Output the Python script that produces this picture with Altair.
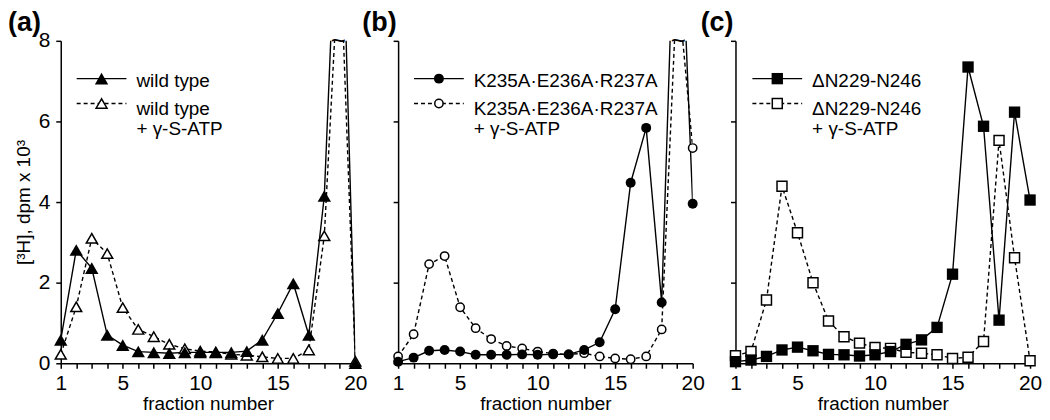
import altair as alt
import pandas as pd

fractions = list(range(1, 21))
x_labels = [1, 5, 10, 15, 20]
y_ticks = [0, 2, 4, 6, 8]

# panel (a)
wt = [0.58, 2.81, 2.36, 0.70, 0.45, 0.29, 0.27, 0.25, 0.27, 0.27,
      0.27, 0.27, 0.30, 0.58, 1.24, 1.98, 0.70, 4.15, 13.5, 0.00]
wt_atp = [0.22, 1.40, 3.10, 2.72, 1.38, 0.84, 0.66, 0.47, 0.36, 0.30,
          0.28, 0.22, 0.20, 0.16, 0.12, 0.12, 0.33, 3.16, 10.5, 0.05]
# panel (b)
kea = [0.04, 0.14, 0.31, 0.33, 0.29, 0.21, 0.21, 0.21, 0.22, 0.21,
       0.22, 0.22, 0.33, 0.52, 1.34, 4.48, 5.84, 1.51, 13.5, 3.96]
kea_atp = [0.17, 0.72, 2.46, 2.66, 1.39, 0.87, 0.60, 0.43, 0.37, 0.29,
           0.24, 0.22, 0.25, 0.17, 0.12, 0.10, 0.17, 0.84, 9.5, 5.34]
# panel (c)
dn = [0.04, 0.08, 0.17, 0.33, 0.40, 0.31, 0.22, 0.21, 0.18, 0.21,
      0.29, 0.47, 0.58, 0.89, 2.21, 7.35, 5.88, 1.07, 6.23, 4.05]
dn_atp = [0.19, 0.29, 1.57, 4.39, 3.24, 2.00, 1.05, 0.66, 0.50, 0.39,
          0.37, 0.27, 0.25, 0.21, 0.12, 0.15, 0.54, 5.53, 2.62, 0.06]

names = ["wild type", "K235A\u00b7E236A\u00b7R237A", "\u0394N229-N246"]
atp_suffix = "+  \u03b3-S-ATP"
panel_tags = ["(a)", "(b)", "(c)"]
break_positions = [18.9, 19.07, None]

FONT = "Liberation Sans"
Y_MAX = 8
W, H = 296, 324


def panel(tag, solid, dashed, shape, name, show_y, brk, sz_fill, sz_open,
          tag_dx, lx0):
    df_s = pd.DataFrame({"fraction": fractions, "value": solid})
    df_d = pd.DataFrame({"fraction": fractions, "value": dashed})
    x = alt.X("fraction:Q",
              scale=alt.Scale(domain=[1, 20], nice=False, zero=False),
              axis=alt.Axis(values=fractions,
                            labelExpr="indexof([1,5,10,15,20], datum.value) >= 0 ? datum.label : ''",
                            title="fraction number", tickSize=5,
                            labelPadding=4, titlePadding=1, labelFlush=False))
    yaxis = dict(values=y_ticks, tickSize=5, labelPadding=6, titlePadding=5)
    if show_y:
        yaxis["title"] = "[\u00b3H], dpm x 10\u00b3"
    else:
        yaxis["title"] = None
        yaxis["labels"] = False
    y = alt.Y("value:Q", scale=alt.Scale(domain=[0, Y_MAX], nice=False),
              axis=alt.Axis(**yaxis))

    line_d = alt.Chart(df_d).mark_line(color="black", strokeWidth=1.4,
                                       strokeDash=[4, 3], clip=True).encode(x=x, y=y)
    line_s = alt.Chart(df_s).mark_line(color="black", strokeWidth=1.4,
                                       clip=True).encode(x=x, y=y)
    pts_d = alt.Chart(df_d).transform_filter(
        f"datum.value <= {Y_MAX}").mark_point(
        shape=shape, filled=True, fill="white", stroke="black",
        strokeWidth=1.5, size=sz_open, opacity=1).encode(x=x, y=y)
    pts_s = alt.Chart(df_s).transform_filter(
        f"datum.value <= {Y_MAX}").mark_point(
        shape=shape, filled=True, color="black", size=sz_fill,
        opacity=1).encode(x=x, y=y)

    one = pd.DataFrame({"k": [0]})
    leg_line1 = alt.Chart(one).mark_rule(color="black", strokeWidth=1.4).encode(
        x=alt.value(lx0), x2=alt.value(lx0 + 50), y=alt.value(38))
    leg_line2 = alt.Chart(one).mark_rule(color="black", strokeWidth=1.4,
                                         strokeDash=[4, 3]).encode(
        x=alt.value(lx0), x2=alt.value(lx0 + 50), y=alt.value(63))
    leg_pt1 = alt.Chart(one).mark_point(shape=shape, filled=True, color="black",
                                        size=sz_fill, opacity=1).encode(
        x=alt.value(lx0 + 25), y=alt.value(38))
    leg_pt2 = alt.Chart(one).mark_point(shape=shape, filled=True, fill="white",
                                        stroke="black", strokeWidth=1.5,
                                        size=sz_open, opacity=1).encode(
        x=alt.value(lx0 + 25), y=alt.value(63))
    leg_txt1 = alt.Chart(one).mark_text(text=name, align="left",
                                        baseline="alphabetic", font=FONT,
                                        fontSize=19, color="black").encode(
        x=alt.value(lx0 + 60), y=alt.value(46))
    leg_txt2 = alt.Chart(one).mark_text(text=[name, atp_suffix], align="left",
                                        baseline="alphabetic", font=FONT,
                                        fontSize=19, lineHeight=19.5,
                                        color="black").encode(
        x=alt.value(lx0 + 60), y=alt.value(75))
    tag_txt = alt.Chart(one).mark_text(text=tag, align="left",
                                       baseline="middle", font=FONT,
                                       fontSize=27, fontWeight="bold",
                                       color="black").encode(
        x=alt.value(tag_dx), y=alt.value(-18))

    layers = [line_d, line_s, pts_d, pts_s, leg_line1, leg_line2, leg_pt1,
              leg_pt2, leg_txt1, leg_txt2, tag_txt]
    if brk is not None:
        df_b = pd.DataFrame({"fraction": [brk], "value": [Y_MAX]})
        layers.append(alt.Chart(df_b).mark_text(text="~", fontSize=26,
                                                 font=FONT, color="black",
                                                 baseline="middle").encode(x=x, y=y))
    return alt.layer(*layers).properties(width=W, height=H)


pa = panel(panel_tags[0], wt, wt_atp, "triangle-up", names[0], True,
           break_positions[0], 180, 120, -53, 16)
pb = panel(panel_tags[1], kea, kea_atp, "circle", names[1], False,
           break_positions[1], 100, 70, -36, 16)
pc = panel(panel_tags[2], dn, dn_atp, "square", names[2], False,
           break_positions[2], 130, 100, -35, 17)

chart = alt.hconcat(pa, pb, pc, spacing=43, bounds="flush", padding=0).configure_view(
    stroke=None
).configure_axis(
    grid=False, domainColor="black", tickColor="black", labelColor="black",
    titleColor="black", labelFont=FONT, titleFont=FONT, labelFontSize=21,
    titleFontSize=19, titleFontWeight="normal", domainWidth=1.5, tickWidth=1.5
)

chart.save("out.html", embed_options={"renderer": "svg", "actions": False})
